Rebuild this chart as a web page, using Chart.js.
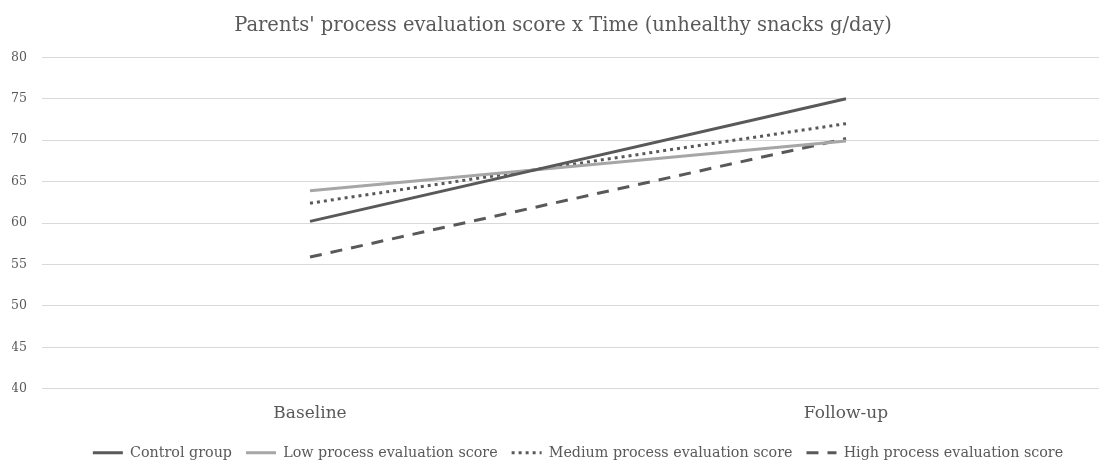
<!DOCTYPE html>
<html>
<head>
<meta charset="utf-8">
<script src="https://cdn.jsdelivr.net/npm/chart.js@4.4.1/dist/chart.umd.min.js"></script>
<style>
  html, body { margin: 0; padding: 0; background: #fff; overflow: hidden; }
  #wrap { position: relative; width: 1132px; height: 470px; }
</style>
</head>
<body>
<div id="wrap"><canvas id="chart"></canvas></div>
<script>
// chart data
const timePoints = ['Baseline', 'Follow-up'];
const controlGroup = [60.2, 75.0];
const lowScore = [63.9, 69.9];
const mediumScore = [62.4, 72.0];
const highScore = [55.9, 70.2];
const yTicks = [40, 45, 50, 55, 60, 65, 70, 75, 80];

const serif = "'DejaVu Serif', 'Liberation Serif', serif";
const dark = '#595959';
const light = '#a6a6a6';

function lineSet(label, data, color, dash) {
    return {
        label: label,
        data: data,
        borderColor: color,
        backgroundColor: color,
        borderWidth: 3,
        borderDash: dash,
        borderCapStyle: 'butt',
        pointRadius: 0,
        tension: 0
    };
}

// legend samples should copy the dash pattern of their line
function legendLabels(chart) {
    return Chart.defaults.plugins.legend.labels.generateLabels(chart).map(item => {
        const ds = chart.data.datasets[item.datasetIndex];
        item.lineDash = ds.borderDash;
        item.lineWidth = ds.borderWidth;
        item.strokeStyle = ds.borderColor;
        item.fillStyle = ds.borderColor;
        item.lineCap = ds.borderCapStyle;
        return item;
    });
}

const ctx = document.getElementById('chart').getContext('2d');
new Chart(ctx, {
    type: 'line',
    data: {
        labels: timePoints,
        datasets: [
            lineSet('Control group', controlGroup, dark, []),
            lineSet('Low process evaluation score', lowScore, light, []),
            lineSet('Medium process evaluation score', mediumScore, dark, [3, 4]),
            lineSet('High process evaluation score', highScore, dark, [12, 9])
        ]
    },
    options: {
        responsive: true,
        maintainAspectRatio: false,
        animation: false,
        layout: { padding: { left: 12, right: 18, top: 6, bottom: 0 } },
        plugins: {
            title: {
                display: true,
                text: "Parents' process evaluation score x Time (unhealthy snacks g/day)",
                color: dark,
                font: { family: serif, size: 19.5, weight: 'normal' },
                padding: { top: 8, bottom: 20 }
            },
            legend: {
                position: 'bottom',
                fullSize: false,
                labels: {
                    usePointStyle: true,
                    pointStyle: 'line',
                    pointStyleWidth: 30,
                    color: dark,
                    padding: 14,
                    font: { family: serif, size: 14.3 },
                    generateLabels: legendLabels
                }
            },
            tooltip: { enabled: false }
        },
        scales: {
            x: {
                offset: true,
                grid: { display: false },
                border: { display: false },
                ticks: { color: dark, font: { family: serif, size: 17 }, padding: 7 },
                afterFit: axis => { axis.height = 43; }
            },
            y: {
                min: 40,
                max: 80,
                afterBuildTicks: axis => { axis.ticks = yTicks.map(v => ({ value: v })); },
                grid: { color: '#d9d9d9', lineWidth: 1, drawTicks: false },
                border: { display: false },
                ticks: { color: dark, font: { family: serif, size: 12.5 }, padding: 15 },
                afterFit: axis => { axis.width = 30; }
            }
        }
    }
});
</script>
</body>
</html>
